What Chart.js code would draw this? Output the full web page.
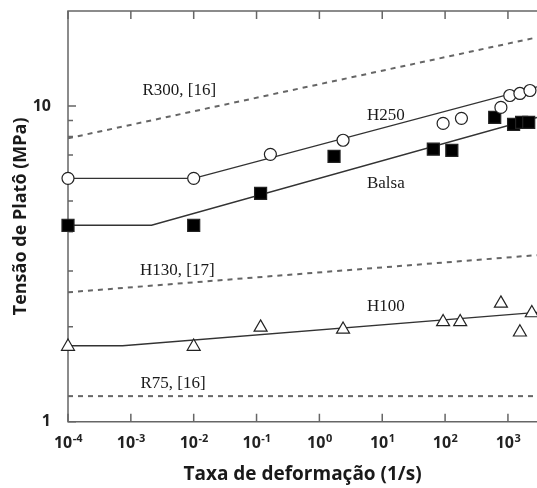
<!DOCTYPE html>
<html>
<head>
<meta charset="utf-8">
<script src="https://cdn.jsdelivr.net/npm/chart.js@4.4.0/dist/chart.umd.min.js"></script>
<style>
  html, body { margin: 0; padding: 0; background: #fff; overflow: hidden; }
  #chart { display: block; }
</style>
</head>
<body>
<canvas id="chart" width="537" height="488"></canvas>
<script>
// axis ticks
const xTicks = [1e-4, 1e-3, 1e-2, 1e-1, 1, 10, 100, 1000];
const xTickExp = ["-4", "-3", "-2", "-1", "0", "1", "2", "3"];
const yTicks = [1, 10];
const yMinorTicks = [2, 3, 4, 5, 6, 7, 8, 9];

// H250 measured (open circles) + fit
const h250Rate = [1e-4, 1e-2, 0.166, 2.38, 93, 182, 773, 1070, 1550, 2240];
const h250Stress = [5.9, 5.9, 7.03, 7.79, 8.81, 9.14, 9.9, 10.8, 10.96, 11.2];
const h250FitRate = [1e-4, 1e-2, 2900];
const h250FitStress = [5.9, 5.9, 11.5];

// Balsa measured (filled squares) + fit
const balsaRate = [1e-4, 1e-2, 0.116, 1.71, 65, 128, 616, 1230, 1650, 2140];
const balsaStress = [4.19, 4.19, 5.29, 6.93, 7.3, 7.24, 9.2, 8.75, 8.88, 8.88];
const balsaFitRate = [1e-4, 0.00213, 2900];
const balsaFitStress = [4.19, 4.19, 9.2];

// H100 measured (open triangles) + fit
const h100Rate = [1e-4, 1e-2, 0.116, 2.38, 93, 174, 773, 1550, 2400];
const h100Stress = [1.73, 1.73, 1.99, 1.96, 2.07, 2.07, 2.37, 1.92, 2.21];
const h100FitRate = [1e-4, 7.4e-4, 2900];
const h100FitStress = [1.74, 1.74, 2.22];

// literature curves (dashed)
const refRate = [1e-4, 2900];
const r300Stress = [7.9, 16.5];
const h130Stress = [2.57, 3.37];
const r75Stress = [1.205, 1.205];

// curve labels: [text, rate, stress]
const curveLabels = [
  ["R300, [16]", 5.9e-3, 11.2],
  ["H250", 11.4, 9.34],
  ["Balsa", 11.4, 5.69],
  ["H130, [17]", 5.5e-3, 3.02],
  ["H100", 11.4, 2.31],
  ["R75, [16]", 4.7e-3, 1.32],
];

const pts = (xs, ys) => xs.map((x, i) => ({ x: x, y: ys[i] }));

const fitLine = (xs, ys) => ({
  data: pts(xs, ys),
  borderColor: "#333",
  borderWidth: 1.4,
  pointRadius: 0,
  fill: false,
  order: 2,
});

const dashLine = (ys) => ({
  data: pts(refRate, ys),
  borderColor: "#666",
  borderWidth: 2,
  borderDash: [5, 5],
  pointRadius: 0,
  fill: false,
  order: 3,
});

const markers = (xs, ys, style, radius, fillColor) => ({
  data: pts(xs, ys),
  showLine: false,
  pointStyle: style,
  pointRadius: radius,
  pointBorderWidth: 1.2,
  pointBorderColor: "#222",
  pointBackgroundColor: fillColor,
  clip: false,
  order: 1,
});

const noPad = (s) => {
  s.paddingTop = 0;
  s.paddingBottom = 0;
  s.paddingLeft = 0;
  s.paddingRight = 0;
};

// frame with inward ticks, exponent tick labels and curve labels
const framePlugin = {
  id: "frame",
  beforeDatasetsDraw(chart) {
    const { ctx, chartArea: a, scales } = chart;
    const xs = scales.x, ys = scales.y;
    ctx.save();
    ctx.strokeStyle = "#666";
    ctx.lineWidth = 1.5;
    ctx.beginPath();
    ctx.moveTo(a.right + 2, a.top);
    ctx.lineTo(a.left, a.top);
    ctx.lineTo(a.left, a.bottom);
    ctx.lineTo(a.right + 2, a.bottom);
    ctx.stroke();
    ctx.beginPath();
    xTicks.forEach((v) => {
      const px = xs.getPixelForValue(v);
      ctx.moveTo(px, a.bottom);
      ctx.lineTo(px, a.bottom - 8);
      ctx.moveTo(px, a.top);
      ctx.lineTo(px, a.top + 8);
    });
    yTicks.forEach((v) => {
      const py = ys.getPixelForValue(v);
      ctx.moveTo(a.left, py);
      ctx.lineTo(a.left + 8, py);
    });
    yMinorTicks.forEach((v) => {
      const py = ys.getPixelForValue(v);
      ctx.moveTo(a.left, py);
      ctx.lineTo(a.left + 5, py);
    });
    ctx.stroke();
    ctx.restore();
  },
  afterDraw(chart) {
    const { ctx, chartArea: a, scales } = chart;
    const xs = scales.x, ys = scales.y;
    ctx.save();
    ctx.fillStyle = "#222";
    ctx.textBaseline = "alphabetic";
    xTicks.forEach((v, i) => {
      const px = xs.getPixelForValue(v);
      ctx.font = "bold 16px 'Open Sans'";
      const w1 = ctx.measureText("10").width;
      ctx.font = "bold 11px 'Open Sans'";
      const w2 = ctx.measureText(xTickExp[i]).width;
      const x0 = px - (w1 + w2) / 2;
      ctx.font = "bold 16px 'Open Sans'";
      ctx.textAlign = "left";
      ctx.fillText("10", x0, a.bottom + 26);
      ctx.font = "bold 11px 'Open Sans'";
      ctx.fillText(xTickExp[i], x0 + w1 + 0.5, a.bottom + 20);
    });
    ctx.font = "17px 'Liberation Serif'";
    ctx.textAlign = "center";
    ctx.textBaseline = "middle";
    ctx.fillStyle = "#1a1a1a";
    curveLabels.forEach(([t, x, y]) => {
      ctx.fillText(t, xs.getPixelForValue(x), ys.getPixelForValue(y));
    });
    ctx.restore();
  },
};

new Chart(document.getElementById("chart"), {
  type: "line",
  data: {
    datasets: [
      dashLine(r300Stress),
      dashLine(h130Stress),
      dashLine(r75Stress),
      fitLine(h250FitRate, h250FitStress),
      fitLine(balsaFitRate, balsaFitStress),
      fitLine(h100FitRate, h100FitStress),
      markers(h250Rate, h250Stress, "circle", 6, "#fff"),
      markers(balsaRate, balsaStress, "rect", 8.5, "#000"),
      markers(h100Rate, h100Stress, "triangle", 7.5, "#fff"),
    ],
  },
  options: {
    responsive: false,
    animation: false,
    layout: { autoPadding: false, padding: { top: 11, right: 0, left: 0, bottom: 0 } },
    plugins: {
      legend: { display: false },
      tooltip: { enabled: false },
    },
    elements: { line: { tension: 0 } },
    scales: {
      x: {
        type: "logarithmic",
        min: 1e-4,
        max: 2900,
        grid: { display: false },
        border: { display: false },
        ticks: { display: false },
        afterFit: (s) => { s.height = 66.3; noPad(s); },
        title: {
          display: true,
          text: "Taxa de deformação (1/s)",
          color: "#1a1a1a",
          font: { family: "'Open Sans'", size: 19, weight: "bold" },
          padding: { top: 0, bottom: 2 },
        },
      },
      y: {
        type: "logarithmic",
        min: 1,
        max: 20,
        grid: { display: false },
        border: { display: false },
        afterBuildTicks: (s) => { s.ticks = yTicks.map((v) => ({ value: v })); },
        afterFit: (s) => { s.width = 68; noPad(s); },
        ticks: {
          color: "#222",
          padding: 9,
          font: { family: "'Open Sans'", size: 16, weight: "bold" },
          callback: (v) => String(v),
        },
        title: {
          display: true,
          text: "Tensão de Platô (MPa)",
          color: "#1a1a1a",
          font: { family: "'Open Sans'", size: 18, weight: "bold" },
          padding: { top: 10, bottom: 0 },
        },
      },
    },
  },
  plugins: [framePlugin],
});
</script>
</body>
</html>
